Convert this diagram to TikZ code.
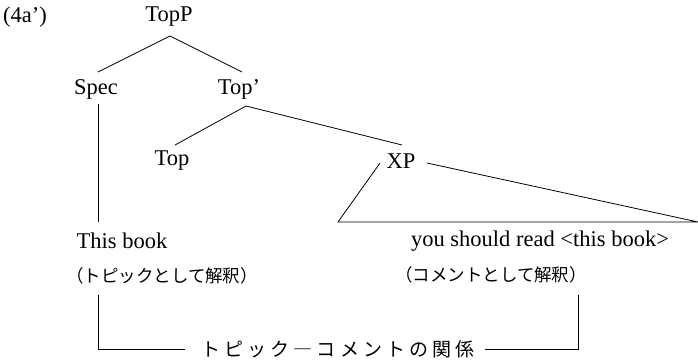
\documentclass[tikz,border=0pt]{standalone}
\usepackage{fontspec}
\setmainfont{Liberation Serif}
\newfontfamily\jp{Noto Sans CJK JP}
\newfontfamily\jpw[LetterSpace=22]{Noto Sans CJK JP}
\begin{document}
\begin{tikzpicture}[x=1pt,y=-1pt,
  lab/.style={inner sep=0pt,font=\fontsize{22.5}{26}\selectfont},
  jl/.style={inner sep=0pt,font=\fontsize{17.5}{20}\selectfont\jp},
  br/.style={line width=0.8pt},
  edge/.style={line width=0.8pt}]
\useasboundingbox (0,0) rectangle (698,360);
\node[lab] (ex) at (25,17) {(4a’)};
\node[lab] (topp) at (169,17) {TopP};
\node[lab] (spec) at (96,89) {Spec};
\node[lab] (topbar) at (239,89) {Top’};
\node[lab] (top) at (172,161) {Top};
\node[lab] (xp) at (401,161) {XP};
\node[lab] (thisbook) at (122,241) {This book};
\node[lab] (ysr) at (540,241) {you should read <this book>};
\node[jl] (tint) at (162,276) {（トピックとして解釈）};
\node[jl] (cint) at (491,275) {（コメントとして解釈）};
\node[jl,font=\fontsize{19}{22}\selectfont\jpw] (rel) at (338,349) {トピック―コメントの関係};
\coordinate (a1) at (170,36);
\coordinate (a2) at (246,106);
\coordinate (tl) at (338,222);
\coordinate (tr) at (698,222);
\draw[edge] (a1) -- (98,72);
\draw[edge] (a1) -- (242,72);
\draw[edge] (a2) -- (175,145);
\draw[edge] (a2) -- (402,145);
\draw[edge] (380,163) -- (tl) -- (tr) -- (427,163);
\draw[edge] (98,104) -- (98,222);
\draw[br] (98,295) -- (98,349) -- (185,349);
\draw[br] (485,349) -- (578,349) -- (578,295);
\end{tikzpicture}
\end{document}
